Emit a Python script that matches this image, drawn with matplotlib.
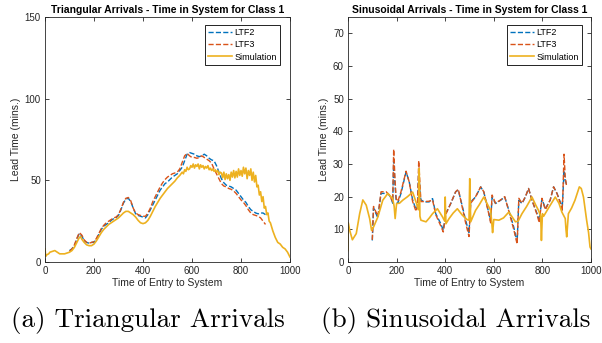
import matplotlib.pyplot as plt

# ---- Triangular arrivals (left) ----
tri_sim_x = [0, 3, 8, 15, 20, 30, 40, 50, 60, 70, 80, 90, 100, 110, 120, 130, 140, 145, 150, 160, 170,
             180, 190, 200, 210, 220, 230, 240, 250, 260, 270, 280, 290, 300, 310, 320, 330, 340,
             350, 360, 370, 380, 390, 400, 410, 420, 430, 440, 450, 460, 470, 480, 490, 500, 510,
             520, 530, 540, 550, 560, 565, 570, 575, 580, 585, 590, 595, 600, 605, 610, 615, 620,
             625, 630, 635, 640, 645, 650, 655, 660, 665, 670, 675, 680, 685, 690, 695, 700, 705,
             710, 715, 720, 725, 730, 735, 740, 745, 750, 755, 760, 765, 770, 775, 780, 785, 790,
             795, 800, 805, 810, 815, 820, 825, 830, 835, 840, 845, 850, 855, 860, 865, 870, 875,
             880, 885, 890, 895, 900, 905, 910, 915, 920, 930, 940, 950, 960, 970, 980, 990, 1000]
tri_sim_y = [8, 3.5, 4.5, 5, 6, 6.5, 7, 6, 5, 5, 5, 5.5, 6, 7, 9, 12, 15, 15.5, 14, 12, 10.5,
             10, 10, 11, 13, 15.5, 18, 20, 21.5, 23, 24, 25, 26, 27, 28.5, 30, 31, 31,
             30, 29, 27.5, 25.5, 24, 23.5, 24, 25.5, 28, 31, 34, 36.5, 39, 41, 43, 45, 46.5,
             48, 49.5, 51.5, 53, 55, 54, 56.5, 55.5, 58, 56.5, 57, 59, 58, 60, 57.5, 59.5, 58.5,
             60, 57, 59.5, 58, 59, 57, 58.5, 57.5, 59, 56.5, 57.5, 56, 57, 55.5, 56.5, 55, 56,
             53.5, 55, 54.5, 51.5, 55, 50.5, 54, 51, 53.5, 50, 55, 52, 56, 51.5, 55.5, 52, 57,
             53, 56, 52.5, 58, 54, 57.5, 51, 56, 53, 57, 50, 55, 49, 53, 46, 47, 41,
             43, 37, 40, 33, 34, 29, 30, 25, 24, 19, 15, 12, 11, 9, 8, 6, 3]

tri_ltf_x = [100, 110, 120, 130, 140, 150, 160, 170, 180, 190, 200, 210, 220, 230, 240, 250, 260,
             270, 280, 290, 300, 310, 320, 330, 340, 350, 360, 370, 380, 390, 400, 410, 420, 430,
             440, 450, 460, 470, 480, 490, 500, 510, 520, 530, 540, 550, 560, 570, 580, 590, 600,
             610, 620, 630, 640, 650, 660, 670, 680, 690, 700, 710, 720, 730, 740, 750, 760, 770,
             780, 790, 800, 810, 820, 830, 840, 850, 860, 870, 880, 890, 900]
tri_ltf2 = [7, 8, 10, 14, 17.5, 16, 13, 12, 11.5, 12, 12, 14, 17, 20, 22, 23, 24,
            25.5, 26.5, 27, 28.5, 32, 36, 38.5, 39, 37, 33, 29.5, 28.5, 28, 27.5, 27, 29, 32,
            35, 38, 41, 44, 46, 48, 49, 50.5, 52, 53, 54, 56, 58, 62, 66, 67, 66.5,
            66, 65, 64.5, 65, 66, 65, 63.5, 62.5, 62, 59, 55, 51, 48.5, 47, 46.5, 46, 45,
            44, 42, 40, 38, 36.5, 34, 32, 31, 30, 29.5, 30, 30, 29]
tri_ltf3 = [6.5, 8, 10.5, 14.5, 18, 16.5, 13.5, 12, 11.5, 12, 12.5, 14.5, 17.5, 20.5, 22.5, 24, 25,
            26, 27, 27.5, 29, 32.5, 36.5, 39, 39.5, 37.5, 33, 30, 29, 28.5, 28, 28, 30, 33,
            37, 40, 43, 46, 48.5, 50.5, 52, 53, 54, 54.5, 55, 57, 61, 65, 66.5, 65, 64,
            64, 63.5, 64, 65, 64, 63, 62, 60.5, 57, 54, 51, 48, 46.5, 46, 45, 44.5, 43.5,
            42, 40, 38, 36.5, 34.5, 32, 30, 29, 28.5, 28, 27, 25, 23]

# ---- Sinusoidal arrivals (right) ----
sin_sim_x = [0, 1, 7, 18, 34, 48, 61, 75, 89, 97, 105, 123, 143, 164, 184, 190, 194, 200, 212, 225,
             245, 266, 282, 290, 293, 296, 300, 321, 335, 348, 368, 389, 398, 400, 403, 416, 433,
             450, 471, 490, 498, 501, 505, 525, 540, 559, 575, 587, 592, 595, 600, 621, 640, 662,
             689, 700, 716, 735, 757, 772, 784, 793, 796, 800, 805, 825, 853, 868, 880, 894, 897,
             900, 907, 920, 934, 952, 960, 969, 982, 990, 996, 1000]
sin_sim_y = [3.5, 12, 9.7, 6.8, 8.7, 14.8, 19, 17.4, 13.3, 9.7, 10.7, 13.8, 18.9, 21, 19.4, 17, 13.3, 17.9, 18, 18.9,
             20, 21.4, 17.9, 16, 28.6, 14, 12.8, 12.3, 13.5, 14.8, 16.3, 13.8, 12.5, 19.9, 11.7, 13.3, 15,
             16.3, 14.3, 13, 12.8, 25.5, 12.3, 15.8, 17.5, 19.9, 17.5, 15.8, 11.7, 9, 13, 12.8, 13.5, 15.3,
             12.3, 12.5, 14.8, 17, 19.9, 17.5, 15.8, 14, 6.6, 14.8, 14, 16.5, 19.9, 18, 15.3, 13.3, 10,
             7.7, 14.8, 16.5, 18.9, 23, 22.5, 19.9, 12.8, 9, 4.6, 4]

sin_ltf_x = [100, 105, 123, 136, 157, 170, 177, 184, 188, 193, 198, 205, 218, 239, 252, 266, 280,
             286, 291, 296, 300, 314, 334, 348, 361, 382, 392, 402, 423, 443, 454, 471, 484, 498,
             505, 525, 546, 559, 580, 587, 593, 607, 628, 645, 662, 682, 696, 703, 716, 730, 743,
             757, 778, 787, 798, 812, 832, 846, 860, 876, 881, 884, 889, 894, 900]
sin_ltf2 = [6.6, 16.5, 13.5, 21, 21, 20.5, 19.5, 18, 31, 24, 19, 18, 21, 27.6, 24.5, 19, 16,
            17, 28, 22, 19, 18.4, 18.4, 19.4, 14.8, 11.7, 9.7, 14.8, 17.9, 21.5, 22, 16.9, 12.8, 9,
            18.4, 19.9, 23, 21.4, 14.8, 12.5, 19.9, 17.9, 18.9, 19.9, 15.8, 10.7, 6, 18.9, 17.9, 19.9, 22.5,
            18.9, 14.8, 12.8, 19.4, 16.3, 18.9, 23, 21, 17.9, 16, 20, 28, 25, 23.5]
sin_ltf3 = [6.8, 17, 14, 21.5, 21.5, 20.5, 19.5, 18.5, 34.5, 26, 19.5, 18.5, 21.5, 27.8, 24.5, 18.5, 15.5,
            17, 31, 24, 18.5, 18.5, 18.6, 19, 14.5, 11, 9.2, 14.5, 18, 21.5, 22.3, 16.5, 12, 7.8,
            18, 20, 23, 21.5, 14.5, 12, 20.5, 18, 19, 20, 15.5, 10, 5.5, 19.5, 18, 20, 22.5,
            19, 14.5, 12, 19.5, 16, 19, 23, 21, 17.5, 15.5, 20, 33, 26, 23]

blue = '#0072BD'
red = '#D95319'
yellow = '#EDB120'
dark = '#262626'

plt.rcParams['font.family'] = ['Liberation Sans', 'DejaVu Sans']

fig = plt.figure(figsize=(6.02, 3.43), dpi=100)
ax1 = fig.add_axes([45 / 602, 81 / 343, 245 / 602, 245 / 343])
ax2 = fig.add_axes([348 / 602, 81 / 343, 243 / 602, 245 / 343])


def style(ax, title, ymax, yticks, leg_x):
    ax.set_xlim(0, 1000)
    ax.set_ylim(0, ymax)
    ax.set_xticks([0, 200, 400, 600, 800, 1000])
    ax.set_yticks(yticks)
    ax.tick_params(direction='in', length=3, width=0.6, top=True, right=True,
                   labelsize=7, colors=dark, pad=3)
    for s in ax.spines.values():
        s.set_linewidth(0.6)
        s.set_color(dark)
    ax.set_title(title, fontsize=7.5, fontweight='bold', pad=3, color='black')
    ax.set_xlabel('Time of Entry to System', fontsize=7.5, color=dark, labelpad=1)
    ax.set_ylabel('Lead Time (mins.)', fontsize=7.5, color=dark, labelpad=3)
    leg = ax.legend(loc='upper right', bbox_to_anchor=(leg_x, 0.967), borderaxespad=0,
                    fontsize=6.5, fancybox=False, framealpha=1, edgecolor='black',
                    handlelength=2.6, handletextpad=0.3, borderpad=0.35, labelspacing=0.35)
    leg.get_frame().set_linewidth(0.6)


ax1.plot(tri_ltf_x, tri_ltf2, '--', color=blue, lw=1.0, label='LTF2')
ax1.plot(tri_ltf_x, tri_ltf3, '--', color=red, lw=1.0, label='LTF3')
ax1.plot(tri_sim_x, tri_sim_y, '-', color=yellow, lw=1.2, label='Simulation')
style(ax1, 'Triangular Arrivals - Time in System for Class 1', 150, [0, 50, 100, 150], 0.959)

ax2.plot(sin_ltf_x, sin_ltf2, '--', color=blue, lw=1.0, label='LTF2')
ax2.plot(sin_ltf_x, sin_ltf3, '--', color=red, lw=1.0, label='LTF3')
ax2.plot(sin_sim_x, sin_sim_y, '-', color=yellow, lw=1.2, label='Simulation')
style(ax2, 'Sinusoidal Arrivals - Time in System for Class 1', 75,
      [0, 10, 20, 30, 40, 50, 60, 70], 0.963)

fig.text(148 / 602, 1 - 320 / 343, '(a) Triangular Arrivals', family='cmr10',
         fontsize=19.5, ha='center', va='center')
fig.text(456 / 602, 1 - 320 / 343, '(b) Sinusoidal Arrivals', family='cmr10',
         fontsize=19.5, ha='center', va='center')

fig.savefig('out.png', dpi=100)
